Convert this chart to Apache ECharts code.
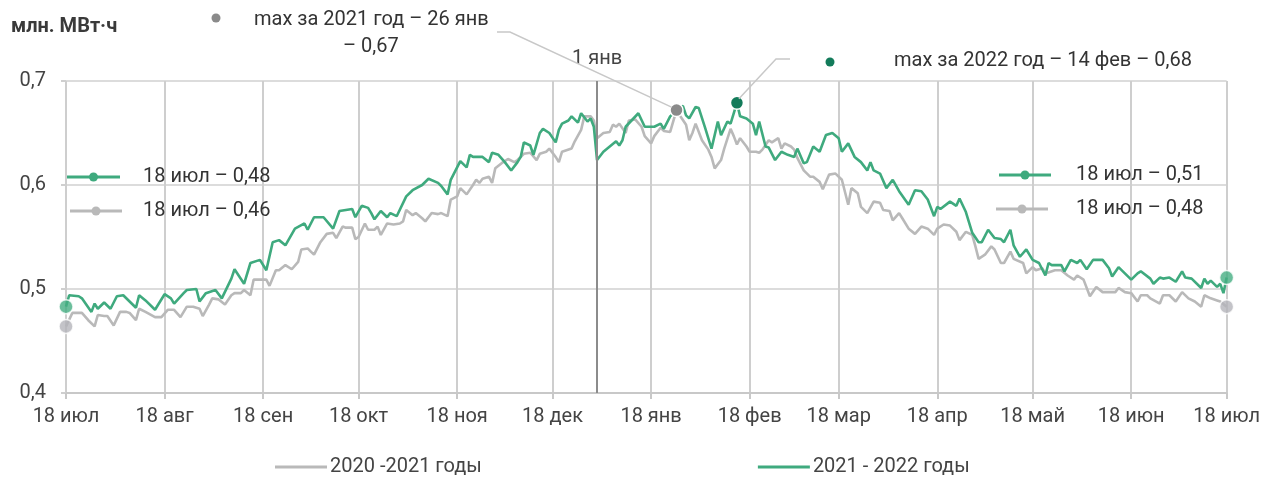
<!DOCTYPE html>
<html>
<head>
<meta charset="utf-8">
<title>Потребление электроэнергии</title>
<script src="https://cdn.jsdelivr.net/npm/echarts@6/dist/echarts.min.js"></script>
<style>
  html, body { margin: 0; padding: 0; background: #fff; }
  #main { width: 1263px; height: 477px; }
</style>
</head>
<body>
<div id="main"></div>
<script>
  // ось X: дни от 18 июля (0) до 18 июля следующего года (365)
  const tickDays = [0, 31, 62, 92, 123, 153, 184, 215, 243, 274, 304, 335, 365]
  const tickLabels = ['18 июл', '18 авг', '18 сен', '18 окт', '18 ноя', '18 дек', '18 янв',
    '18 фев', '18 мар', '18 апр', '18 май', '18 июн', '18 июл']
  const newYearDay = 167
  const yTicks = [0.4, 0.5, 0.6, 0.7]

  // 2020-2021, млн. МВт·ч (день, значение)
  const grayDays = [0, 2, 4, 5, 7, 9, 10, 12, 13, 15, 17, 19, 20, 22, 23, 25, 28, 30, 32, 34,
    36, 38, 40, 42, 43, 45, 46, 48, 50, 52, 53, 55, 56, 58, 59, 61, 63, 64, 66, 67,
    69, 71, 73, 74, 76, 77, 78, 80, 82, 84, 85, 87, 88, 90, 91, 92, 94, 95, 97, 98,
    99, 101, 103, 105, 106, 107, 109, 110, 112, 113, 115, 117, 118, 120, 121, 123, 124, 126, 128, 129,
    130, 131, 133, 134, 135, 137, 139, 141, 142, 144, 146, 148, 149, 151, 152, 154, 155, 156, 159, 160,
    162, 163, 165, 166, 167, 169, 171, 172, 173, 174, 176, 177, 179, 181, 182, 184, 185, 187, 188, 190,
    192, 193, 195, 196, 197, 198, 200, 202, 203, 204, 206, 207, 209, 210, 211, 212, 214, 215, 217, 218,
    219, 221, 222, 224, 225, 226, 228, 229, 230, 232, 234, 235, 237, 238, 240, 242, 244, 246, 247, 249,
    250, 252, 254, 256, 257, 259, 260, 262, 263, 265, 267, 269, 271, 273, 274, 276, 278, 280, 281, 283,
    285, 286, 287, 289, 291, 292, 294, 295, 297, 298, 301, 302, 304, 305, 307, 308, 311, 313, 315, 317,
    318, 320, 322, 324, 326, 328, 330, 331, 333, 335, 337, 338, 340, 341, 344, 345, 347, 349, 351, 353,
    355, 357, 358, 360, 362, 363, 365]
  const grayVals = [0.464, 0.477, 0.477, 0.477, 0.470, 0.464, 0.475, 0.474, 0.474, 0.465, 0.478, 0.478, 0.477, 0.470, 0.481, 0.478, 0.473, 0.473, 0.480, 0.480,
    0.473, 0.483, 0.483, 0.481, 0.474, 0.485, 0.491, 0.490, 0.485, 0.494, 0.496, 0.496, 0.499, 0.494, 0.509, 0.509, 0.509, 0.503, 0.518, 0.518,
    0.523, 0.519, 0.526, 0.538, 0.539, 0.536, 0.533, 0.545, 0.553, 0.554, 0.549, 0.560, 0.559, 0.559, 0.548, 0.550, 0.563, 0.557, 0.557, 0.560,
    0.552, 0.563, 0.562, 0.563, 0.565, 0.576, 0.571, 0.573, 0.568, 0.565, 0.573, 0.572, 0.573, 0.570, 0.586, 0.589, 0.597, 0.591, 0.600, 0.605,
    0.602, 0.606, 0.608, 0.602, 0.616, 0.621, 0.625, 0.622, 0.624, 0.630, 0.631, 0.624, 0.630, 0.632, 0.635, 0.627, 0.622, 0.632, 0.635, 0.642,
    0.653, 0.666, 0.666, 0.662, 0.645, 0.650, 0.651, 0.658, 0.656, 0.659, 0.650, 0.662, 0.663, 0.656, 0.647, 0.640, 0.647, 0.655, 0.652, 0.651,
    0.672, 0.667, 0.658, 0.643, 0.650, 0.659, 0.643, 0.634, 0.627, 0.616, 0.624, 0.635, 0.654, 0.647, 0.639, 0.645, 0.637, 0.632, 0.632, 0.631,
    0.634, 0.643, 0.641, 0.645, 0.635, 0.640, 0.637, 0.634, 0.626, 0.614, 0.608, 0.608, 0.603, 0.596, 0.610, 0.611, 0.605, 0.581, 0.597, 0.592,
    0.579, 0.573, 0.584, 0.583, 0.576, 0.575, 0.566, 0.573, 0.568, 0.558, 0.553, 0.560, 0.558, 0.552, 0.558, 0.562, 0.561, 0.555, 0.547, 0.555,
    0.552, 0.541, 0.529, 0.533, 0.541, 0.538, 0.525, 0.525, 0.536, 0.529, 0.525, 0.515, 0.521, 0.518, 0.520, 0.515, 0.518, 0.518, 0.513, 0.509,
    0.513, 0.509, 0.493, 0.502, 0.497, 0.497, 0.497, 0.501, 0.497, 0.496, 0.488, 0.494, 0.494, 0.491, 0.486, 0.494, 0.494, 0.488, 0.497, 0.491,
    0.488, 0.483, 0.494, 0.491, 0.489, 0.488, 0.483]

  // 2021-2022, млн. МВт·ч (день, значение)
  const greenDays = [0, 1, 4, 5, 8, 9, 10, 12, 14, 16, 18, 22, 23, 25, 28, 31, 33, 34, 37, 38,
    41, 42, 44, 47, 49, 52, 53, 56, 58, 61, 63, 65, 67, 69, 72, 75, 76, 78, 81, 84,
    86, 90, 91, 93, 95, 96, 97, 99, 101, 102, 104, 107, 109, 112, 114, 117, 118, 120, 121, 124,
    126, 127, 128, 131, 133, 134, 136, 138, 140, 142, 143, 144, 146, 147, 149, 150, 152, 154, 155, 156,
    158, 159, 161, 162, 164, 165, 166, 167, 169, 171, 173, 174, 175, 176, 180, 182, 185, 187, 188, 190,
    192, 194, 195, 196, 198, 199, 201, 203, 205, 206, 208, 209, 211, 212, 214, 216, 217, 218, 220, 221,
    223, 225, 227, 229, 230, 232, 233, 235, 237, 239, 241, 243, 244, 246, 248, 250, 252, 253, 254, 256,
    258, 260, 262, 265, 267, 269, 271, 273, 274, 275, 278, 280, 281, 283, 285, 287, 288, 290, 292, 294,
    295, 297, 298, 300, 302, 304, 306, 308, 309, 310, 313, 314, 316, 318, 319, 321, 323, 326, 328, 329,
    331, 333, 335, 337, 338, 341, 342, 344, 345, 347, 349, 351, 352, 354, 357, 358, 359, 360, 362, 363,
    364, 365]
  const greenVals = [0.483, 0.494, 0.493, 0.491, 0.478, 0.486, 0.481, 0.487, 0.481, 0.493, 0.494, 0.482, 0.494, 0.489, 0.480, 0.495, 0.491, 0.486, 0.496, 0.499,
    0.500, 0.488, 0.496, 0.499, 0.491, 0.510, 0.519, 0.505, 0.525, 0.528, 0.518, 0.545, 0.547, 0.542, 0.558, 0.563, 0.557, 0.569, 0.569, 0.558,
    0.575, 0.577, 0.569, 0.580, 0.578, 0.573, 0.567, 0.575, 0.569, 0.573, 0.570, 0.589, 0.595, 0.600, 0.606, 0.602, 0.599, 0.591, 0.605, 0.623,
    0.617, 0.629, 0.627, 0.627, 0.622, 0.631, 0.629, 0.622, 0.614, 0.622, 0.627, 0.641, 0.638, 0.629, 0.650, 0.654, 0.650, 0.641, 0.653, 0.659,
    0.662, 0.666, 0.660, 0.669, 0.661, 0.664, 0.656, 0.624, 0.632, 0.637, 0.642, 0.638, 0.643, 0.656, 0.669, 0.656, 0.656, 0.659, 0.654, 0.666,
    0.672, 0.676, 0.667, 0.664, 0.675, 0.674, 0.655, 0.635, 0.661, 0.648, 0.661, 0.659, 0.679, 0.666, 0.664, 0.659, 0.648, 0.661, 0.637, 0.636,
    0.624, 0.632, 0.629, 0.627, 0.635, 0.621, 0.622, 0.637, 0.632, 0.648, 0.650, 0.645, 0.632, 0.640, 0.627, 0.622, 0.614, 0.622, 0.614, 0.611,
    0.597, 0.605, 0.594, 0.581, 0.595, 0.594, 0.586, 0.570, 0.579, 0.577, 0.584, 0.580, 0.587, 0.574, 0.554, 0.545, 0.545, 0.557, 0.549, 0.548,
    0.545, 0.557, 0.542, 0.531, 0.538, 0.528, 0.525, 0.513, 0.525, 0.523, 0.523, 0.517, 0.528, 0.525, 0.528, 0.519, 0.528, 0.528, 0.520, 0.512,
    0.521, 0.515, 0.509, 0.515, 0.517, 0.510, 0.505, 0.511, 0.510, 0.511, 0.507, 0.517, 0.511, 0.510, 0.501, 0.510, 0.505, 0.508, 0.502, 0.505,
    0.496, 0.511]

  const grayName = '2020 -2021 годы'
  const greenName = '2021 - 2022 годы'
  const GREEN = '#3faa7e'
  const GRAY = '#b9b9b9'
  const FONT = 'Roboto'

  const days = Array.from({ length: 366 }, (_, i) => String(i))
  const zip = (xs, ys) => xs.map((x, i) => [x, ys[i]])
  const isTick = (i) => tickDays.indexOf(i) !== -1
  const fmt = (v) => v.toFixed(2).replace('.', ',')

  const grayData = zip(grayDays, grayVals)
  const greenData = zip(greenDays, greenVals)
  const maxOf = (data) => data.reduce((a, b) => (b[1] > a[1] ? b : a))
  const grayMax = maxOf(grayData)
  const greenMax = maxOf(greenData)
  const grayFirst = grayData[0], grayLast = grayData[grayData.length - 1]
  const greenFirst = greenData[0], greenLast = greenData[greenData.length - 1]

  const myChart = echarts.init(document.getElementById('main'))

  const option = {
    animation: false,
    textStyle: { fontFamily: FONT },
    grid: { left: 66, right: 36, top: 81, bottom: 84 },
    legend: {
      data: [grayName, greenName],
      left: 275,
      top: 457,
      padding: 0,
      icon: 'rect',
      itemWidth: 52,
      itemHeight: 3,
      itemGap: 276,
      textStyle: { fontSize: 20, color: '#444', fontFamily: FONT, padding: [0, 0, 0, -2] }
    },
    xAxis: {
      type: 'category',
      boundaryGap: false,
      data: days,
      axisLine: { lineStyle: { color: '#c8c8c8', width: 2 } },
      axisTick: { show: true, interval: (i) => isTick(i), length: 6, lineStyle: { color: '#c8c8c8', width: 2 } },
      axisLabel: {
        interval: (i) => isTick(i),
        formatter: (v, i) => tickLabels[tickDays.indexOf(Number(v))],
        fontSize: 20,
        color: '#444',
        margin: 14
      },
      splitLine: { show: true, interval: (i) => isTick(i), lineStyle: { color: '#cecece', width: 2 } }
    },
    yAxis: {
      type: 'value',
      min: 0.4,
      max: 0.7,
      interval: 0.1,
      axisLine: { show: false },
      axisTick: { show: true, length: 5, lineStyle: { color: '#cfcfcf', width: 2 } },
      axisLabel: {
        formatter: (v) => v.toFixed(1).replace('.', ','),
        fontSize: 20,
        color: '#444',
        margin: 20
      },
      splitLine: { lineStyle: { color: '#dcdcdc', width: 2 } }
    },
    series: [
      {
        name: grayName,
        type: 'line',
        data: grayData,
        showSymbol: false,
        color: GRAY,
        lineStyle: { width: 2.6, color: GRAY },
        markLine: {
          silent: true,
          symbol: 'none',
          label: { show: true, position: 'end', formatter: '1 янв', fontSize: 20, color: '#444', distance: 12 },
          lineStyle: { color: '#8c8c8c', width: 2, type: 'solid' },
          data: [{ xAxis: newYearDay }]
        },
        markPoint: {
          symbol: 'circle',
          symbolSize: 13,
          label: { show: false },
          itemStyle: { color: '#8a8a8a', borderColor: '#fff', borderWidth: 1.5 },
          data: [{ coord: grayMax }]
        }
      },
      {
        name: greenName,
        type: 'line',
        data: greenData,
        showSymbol: false,
        color: GREEN,
        lineStyle: { width: 2.6, color: GREEN },
        markPoint: {
          symbol: 'circle',
          symbolSize: 13,
          label: { show: false },
          itemStyle: { color: '#137b5a', borderColor: '#fff', borderWidth: 1.5 },
          data: [{ coord: greenMax }]
        }
      },
      {
        name: 'ends',
        type: 'scatter',
        symbolSize: 14,
        z: 5,
        data: [
          { value: grayFirst, itemStyle: { color: '#b4b4ba' } },
          { value: grayLast, itemStyle: { color: '#b4b4ba' } },
          { value: greenFirst, itemStyle: { color: '#45ae82' } },
          { value: greenLast, itemStyle: { color: '#45ae82' } }
        ],
        itemStyle: { borderColor: '#fff', borderWidth: 1.5 }
      }
    ]
  }

  myChart.setOption(option)

  // подписи и выноски поверх графика
  const gMaxPx = myChart.convertToPixel({ gridIndex: 0 }, grayMax)
  const grMaxPx = myChart.convertToPixel({ gridIndex: 0 }, greenMax)

  const txt = (x, y, text, extra) => ({
    type: 'text', x: x, y: y, z: 100,
    style: Object.assign({ text: text, font: '20px ' + FONT, fill: '#333', verticalAlign: 'middle' }, extra || {})
  })
  const dot = (cx, cy, color) => ({ type: 'circle', z: 100, shape: { cx: cx, cy: cy, r: 4.5 }, style: { fill: color } })
  const legendRow = (x1, x2, y, color, tx, text) => [
    { type: 'line', z: 100, shape: { x1: x1, y1: y, x2: x2, y2: y }, style: { stroke: color, lineWidth: 3 } },
    dot((x1 + x2) / 2, y, color),
    txt(tx, y, text)
  ]

  const graphic = [
    txt(11, 27, 'млн. МВт·ч', { font: 'bold 20px ' + FONT, fill: '#3a3a3a' }),
    dot(216, 18, '#8a8a8a'),
    txt(254, 20, 'max за 2021 год – 26 янв'),
    txt(343, 47, '– ' + fmt(grayMax[1])),
    { type: 'polyline', z: 90, shape: { points: [[497, 32], [510, 32], [gMaxPx[0] - 5, gMaxPx[1] - 3]] }, style: { stroke: '#c8c8c8', lineWidth: 1.5, fill: null } },
    { type: 'polyline', z: 90, shape: { points: [[grMaxPx[0] + 2, grMaxPx[1] - 4], [776, 59], [790, 59]] }, style: { stroke: '#c8c8c8', lineWidth: 1.5, fill: null } },
    dot(830, 62, '#137b5a'),
    txt(894, 61, 'max за 2022 год – 14 фев – ' + fmt(greenMax[1]))
  ]
    .concat(legendRow(67, 120, 177, GREEN, 143, '18 июл – ' + fmt(greenFirst[1])))
    .concat(legendRow(70, 122, 211, GRAY, 143, '18 июл – ' + fmt(grayFirst[1])))
    .concat(legendRow(999, 1051, 175, GREEN, 1076, '18 июл – ' + fmt(greenLast[1])))
    .concat(legendRow(996, 1048, 209, GRAY, 1076, '18 июл – ' + fmt(grayLast[1])))

  myChart.setOption({ graphic: graphic })
</script>
</body>
</html>
